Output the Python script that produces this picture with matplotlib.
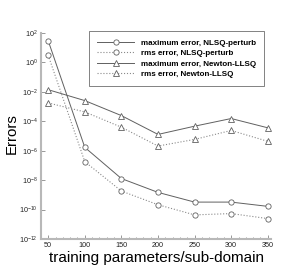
import numpy as np
import matplotlib
matplotlib.use('Agg')
import matplotlib.pyplot as plt
from matplotlib.ticker import MultipleLocator, FixedLocator

plt.rcParams['font.family'] = ['Liberation Sans', 'DejaVu Sans']
plt.rcParams['mathtext.fontset'] = 'custom'
plt.rcParams['mathtext.rm'] = 'Liberation Sans'

params = [50, 100, 150, 200, 250, 300, 350]

# log10 of the errors
max_nlsq = [1.48, -5.77, -7.89, -8.83, -9.49, -9.49, -9.78]
rms_nlsq = [0.49, -6.74, -8.74, -9.67, -10.36, -10.27, -10.61]
max_newton = [-1.85, -2.59, -3.61, -4.89, -4.33, -3.81, -4.44]
rms_newton = [-2.75, -3.36, -4.40, -5.68, -5.23, -4.62, -5.36]

labels = ['maximum error, NLSQ-perturb', 'rms error, NLSQ-perturb',
          'maximum error, Newton-LLSQ', 'rms error, Newton-LLSQ']

fig = plt.figure(figsize=(3.05, 2.71), dpi=100)
ax = fig.add_axes([0.134, 0.118, 0.756, 0.760])

solid = '#606060'
dots = '#8a8a8a'
mk = dict(ms=3.8, mfc='white', mec='#606060', mew=0.6)
ax.semilogy(params, 10**np.array(max_nlsq), '-', color=solid, lw=0.7, marker='o',
            label=labels[0], **mk)
ax.semilogy(params, 10**np.array(rms_nlsq), ':', color=dots, lw=0.8, marker='o',
            label=labels[1], **mk)
ax.semilogy(params, 10**np.array(max_newton), '-', color=solid, lw=0.7, marker='^',
            label=labels[2], **mk)
ax.semilogy(params, 10**np.array(rms_newton), ':', color=dots, lw=0.8, marker='^',
            label=labels[3], **mk)

ax.set_xlim(40, 355)
ax.set_ylim(1e-12, 1e2)
ax.xaxis.set_major_locator(MultipleLocator(50))
ax.xaxis.set_minor_locator(MultipleLocator(10))
ax.yaxis.set_major_locator(FixedLocator([10.0**k for k in range(-12, 3, 2)]))
ax.yaxis.set_minor_locator(FixedLocator([]))

for s in ['top', 'right']:
    ax.spines[s].set_visible(False)
for s in ['left', 'bottom']:
    ax.spines[s].set_color('#b8b8b8')
    ax.spines[s].set_linewidth(1.5)

ax.tick_params(which='both', direction='in', labelsize=5.2, labelcolor='#222222',
               color='#707070', width=0.5, pad=2.5)
ax.tick_params(which='major', length=3)
ax.tick_params(which='minor', length=1.5)

ax.set_xlabel('training parameters/sub-domain', fontsize=11, labelpad=1)
ax.set_ylabel('Errors', fontsize=10.8)
ax.yaxis.set_label_coords(-0.097, 0.51)

leg = ax.legend(loc='upper right', bbox_to_anchor=(0.985, 1.03),
                prop={'weight': 'bold', 'size': 5.8}, handlelength=4.6,
                fancybox=False, edgecolor='#505050', framealpha=1,
                borderpad=1.0, labelspacing=0.35, handletextpad=0.8)
leg.get_frame().set_linewidth(0.5)

fig.savefig('out.png', dpi=100)
